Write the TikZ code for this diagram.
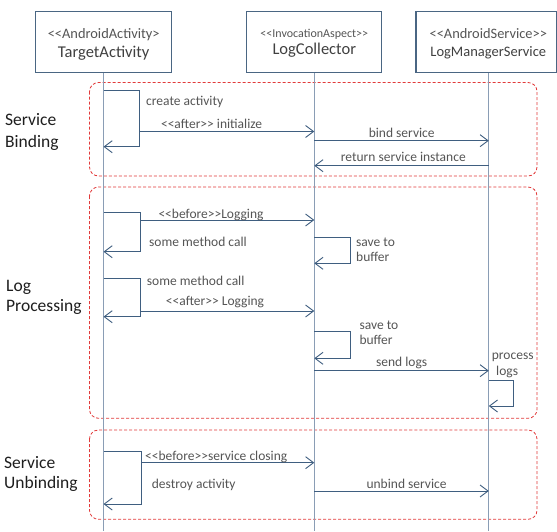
\documentclass[tikz,border=0pt]{standalone}
\usepackage{fontspec}
\setmainfont{Carlito}
\usetikzlibrary{arrows.meta}
\definecolor{boxc}{HTML}{4A6683}
\definecolor{lifec}{HTML}{8A9DB5}
\definecolor{msgc}{HTML}{3F5E80}
\definecolor{regc}{HTML}{E23A3A}
\definecolor{stc}{HTML}{555555}
\definecolor{namec}{HTML}{404040}
\definecolor{lblc}{HTML}{555555}
\definecolor{secc}{HTML}{1E1E1E}
\newcommand\dlt{\textless\kern0pt\textless}
\newcommand\dgt{\textgreater\kern0pt\textgreater}
\begin{document}
\begin{tikzpicture}[x=1pt,y=-1pt,
  box/.style={draw=boxc,line width=1.1pt,fill=white,minimum height=61pt,inner sep=0pt},
  life/.style={draw=lifec,line width=1.1pt},
  msg/.style={draw=msgc,line width=0.9pt,-{Straight Barb[length=8pt,width=12pt]}},
  region/.style={draw=regc,line width=0.8pt,dash pattern=on 3pt off 2pt,rounded corners=9pt},
  stereo/.style={text=stc,inner sep=0pt,anchor=mid,yshift=-3pt,font=\fontsize{14.4}{16}\selectfont},
  lname/.style={text=namec,inner sep=0pt,anchor=mid,yshift=-3pt,font=\fontsize{16.5}{18}\selectfont},
  lbl/.style={text=lblc,inner sep=0pt,yshift=-3pt,font=\fontsize{13.5}{15}\selectfont},
  sec/.style={text=secc,inner sep=0pt,anchor=mid west,yshift=-3.5pt,font=\fontsize{17.5}{21}\selectfont}]
\useasboundingbox (0,0) rectangle (557,531);
\fill[white] (0,0) rectangle (557,531);

% regions
\draw[region] (89.5,82.5) rectangle (537,176);
\draw[region] (89.5,187) rectangle (537,418.3);
\draw[region] (89.5,430) rectangle (537,519.3);

% lifelines
\coordinate (l1s) at (103.5,72.7);
\coordinate (l2s) at (314.3,72.7);
\coordinate (l3s) at (488.8,72.7);
\coordinate (l1e) at (103.5,531);
\coordinate (l2e) at (314.3,531);
\coordinate (l3e) at (488.8,531);
\draw[life] (l1s) -- (l1e);
\draw[life] (l2s) -- (l2e);
\draw[life] (l3s) -- (l3e);

% participant boxes
\node[box,minimum width=136pt] (tgt) at (103.5,42.2) {};
\node[box,minimum width=135pt] (lc) at (314.3,42.2) {};
\node[box,minimum width=140.5pt] (lms) at (486.25,42.2) {};
\node[stereo] (tgtS) at (103.7,33.3) {\dlt AndroidActivity>};
\node[lname] (tgtN) at (103.7,52.5) {TargetActivity};
\node[stereo,font=\fontsize{12}{14}\selectfont] (lcS) at (314.3,32.3) {\dlt InvocationAspect\dgt};
\node[lname] (lcN) at (314.3,49.5) {LogCollector};
\node[stereo] (lmsS) at (488.3,33.3) {\dlt AndroidService\dgt};
\node[lname,font=\fontsize{14.5}{16}\selectfont] (lmsN) at (488.3,50.7) {LogManagerService};

% section labels
\node[sec] (sb1) at (5,120) {Service};
\node[sec] (sb2) at (5,141.7) {Binding};
\node[sec] (lp1) at (6,286) {Log};
\node[sec] (lp2) at (6,306) {Processing};
\node[sec] (su1) at (4,463) {Service};
\node[sec] (su2) at (4,483) {Unbinding};

% ---- Service Binding
\coordinate (a1) at (103.5,90);
\coordinate (a1r) at (139.5,146.7);
\coordinate (a1e) at (103.5,146.7);
\draw[msg] (a1) -| (a1r) -- (a1e);
\node[lbl,anchor=mid west] (ca) at (146,100) {create activity};

\coordinate (b1) at (139.5,131.5);
\coordinate (b2) at (314.3,131.5);
\draw[msg] (b1) -- (b2);
\node[lbl,anchor=mid] (ai) at (211.6,122.7) {\dlt after\dgt{} initialize};

\coordinate (c1) at (314.3,140.7);
\coordinate (c2) at (488.8,140.7);
\draw[msg] (c1) -- (c2);
\node[lbl,anchor=mid] (bs) at (401.7,132.3) {bind service};

\coordinate (d1) at (488.8,165.7);
\coordinate (d2) at (314.3,165.7);
\draw[msg] (d1) -- (d2);
\node[lbl,anchor=mid] (rs) at (403.3,155.7) {return service instance};

% ---- Log Processing
\coordinate (e1) at (103.5,212.3);
\coordinate (e1r) at (140,251.7);
\coordinate (e1e) at (103.5,251.7);
\draw[msg] (e1) -| (e1r) -- (e1e);

\coordinate (f1) at (140,220);
\coordinate (f2) at (314.3,220);
\draw[msg] (f1) -- (f2);
\node[lbl,anchor=mid] (bl) at (211,212.7) {\dlt before\dgt Logging};
\node[lbl,anchor=mid west] (smc1) at (149,240.7) {some method call};

\coordinate (g1) at (314.3,237.7);
\coordinate (g1r) at (350.7,263.3);
\coordinate (g1e) at (314.3,263.3);
\draw[msg] (g1) -| (g1r) -- (g1e);
\node[lbl,anchor=mid west] (sv1a) at (356,240.7) {save to};
\node[lbl,anchor=mid west] (sv1b) at (356,255.7) {buffer};

\coordinate (h1) at (103.5,278.3);
\coordinate (h1r) at (140,316.7);
\coordinate (h1e) at (103.5,316.7);
\draw[msg] (h1) -| (h1r) -- (h1e);
\node[lbl,anchor=mid west] (smc2) at (146.7,280) {some method call};

\coordinate (i1) at (140,311);
\coordinate (i2) at (314.3,311);
\draw[msg] (i1) -- (i2);
\node[lbl,anchor=mid] (al) at (215,300) {\dlt after\dgt{} Logging};

\coordinate (j1) at (314.3,331.7);
\coordinate (j1r) at (350.7,358.3);
\coordinate (j1e) at (314.3,358.3);
\draw[msg] (j1) -| (j1r) -- (j1e);
\node[lbl,anchor=mid west] (sv2a) at (359.3,324.3) {save to};
\node[lbl,anchor=mid west] (sv2b) at (359.3,339.3) {buffer};

\coordinate (k1) at (314.3,370.7);
\coordinate (k2) at (488.8,370.7);
\draw[msg] (k1) -- (k2);
\node[lbl,anchor=mid] (sl) at (401.7,360.7) {send logs};

\coordinate (m1) at (488.8,380.7);
\coordinate (m1r) at (513.3,406);
\coordinate (m1e) at (488.8,406);
\draw[msg] (m1) -| (m1r) -- (m1e);
\node[lbl,anchor=mid west] (pl1) at (491.7,354) {process};
\node[lbl,anchor=mid west] (pl2) at (496,370) {logs};

% ---- Service Unbinding
\coordinate (n1) at (103.5,451.7);
\coordinate (n1r) at (141,504);
\coordinate (n1e) at (103.5,504);
\draw[msg] (n1) -| (n1r) -- (n1e);

\coordinate (o1) at (141,462.7);
\coordinate (o2) at (314.3,462.7);
\draw[msg] (o1) -- (o2);
\node[lbl,anchor=mid west] (bsc) at (145,455) {\dlt before\dgt service closing};
\node[lbl,anchor=mid west] (da) at (151.7,483.3) {destroy activity};

\coordinate (p1) at (314.3,491);
\coordinate (p2) at (488.8,491);
\draw[msg] (p1) -- (p2);
\node[lbl,anchor=mid] (us) at (406.6,482.7) {unbind service};
\end{tikzpicture}
\end{document}
